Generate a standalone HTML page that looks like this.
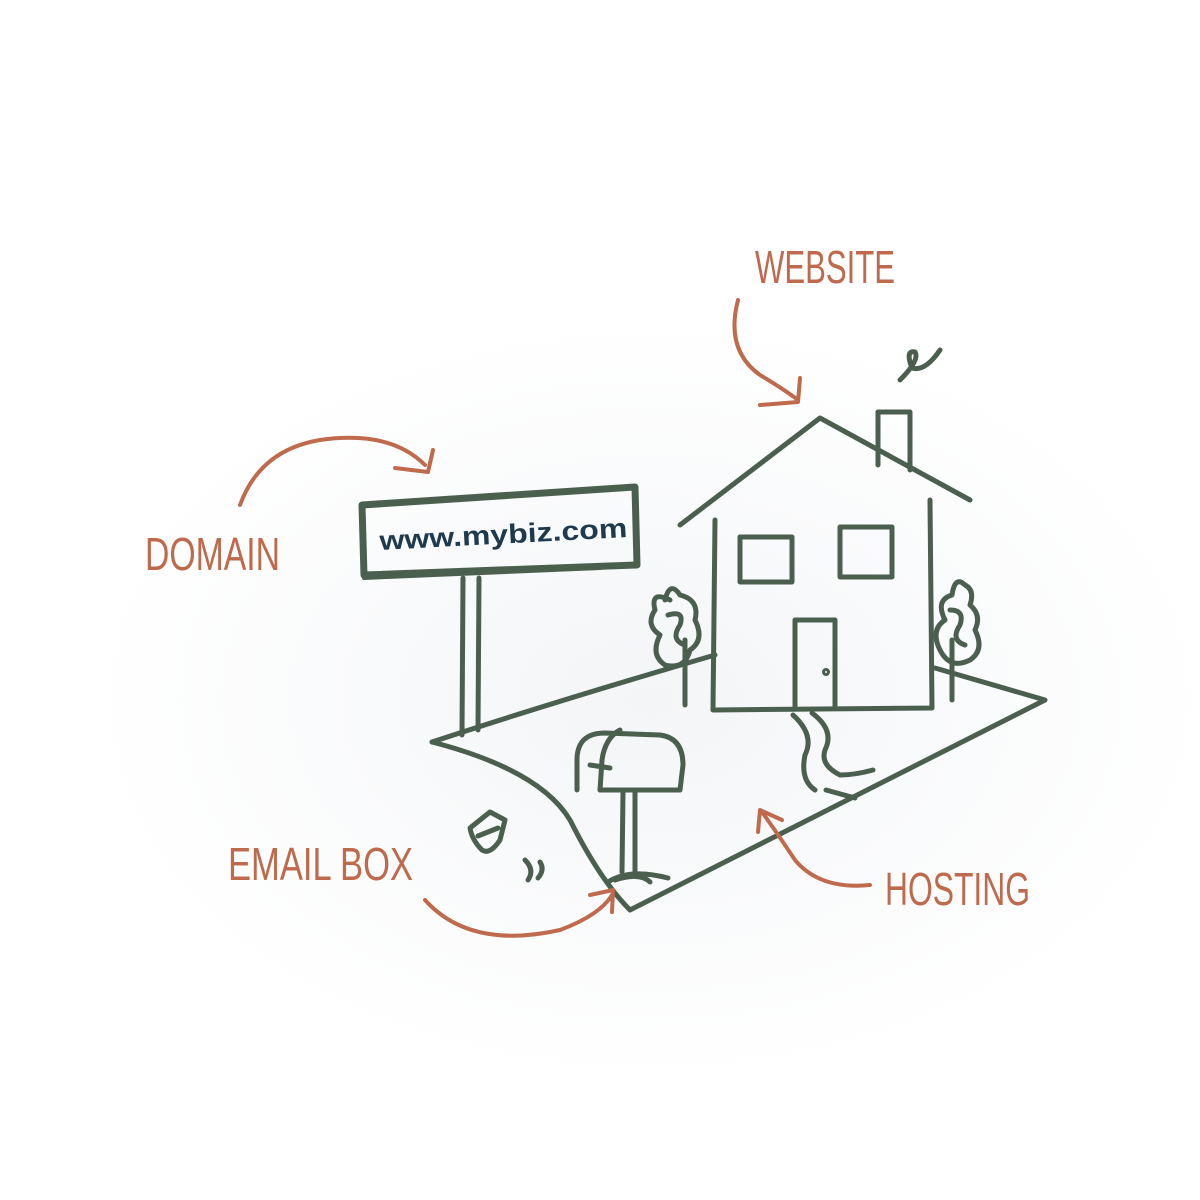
<!DOCTYPE html>
<html><head><meta charset="utf-8"><style>
html,body{margin:0;padding:0;background:#fff;}
svg{display:block;}
text{font-family:"Liberation Sans",sans-serif;}
</style></head><body>
<svg width="1200" height="1200" viewBox="0 0 1200 1200" xmlns="http://www.w3.org/2000/svg">
<defs>
<radialGradient id="wash" cx="0.5" cy="0.5" r="0.5">
<stop offset="0" stop-color="#f3f5f7"/><stop offset="1" stop-color="#ffffff"/>
</radialGradient>
</defs>
<rect width="1200" height="1200" fill="#fff"/>
<ellipse cx="650" cy="700" rx="560" ry="380" fill="url(#wash)"/>
<g fill="none" stroke="#4b5f4f" stroke-width="5" stroke-linecap="round" stroke-linejoin="round">
<path d="M432,742 Q560,700 715,655"/>
<path d="M935,668 L1045,700 L630,910"/>
<path d="M432,742 Q540,770 570,820 Q600,880 630,910"/>
<path d="M715,520 L713,710 L932,708 L930,500"/>
<path d="M680,525 L820,418 L970,500"/>
<path d="M878,465 L878,412 L910,412 L910,470"/>
<rect x="740" y="537" width="52" height="45"/>
<rect x="840" y="527" width="52" height="50"/>
<path d="M795,708 L795,620 L835,620 L835,708"/>
<circle cx="826" cy="672" r="1.5"/>
<path d="M793,715 Q815,735 805,755 Q800,780 815,790 M812,713 Q835,730 825,750 Q820,765 840,775 Q855,775 873,770"/>
<path d="M826,790 L855,798"/>
<path d="M900,380 Q920,360 915,352 Q905,350 912,368 Q925,372 940,350"/>
<path d="M362,505 L635,487 L637,565 L364,575 Z" stroke-width="7"/>
<path d="M364,578 L600,568" stroke-width="4"/>
<path d="M463,578 L462,735 M479,578 L478,730"/>
<path d="M577,790 L577,760 Q577,733 605,733 L660,735 Q683,738 683,765 L680,790 L600,790"/>
<path d="M620,730 Q605,738 602,760 L600,790"/>
<path d="M590,765 L610,768"/>
<path d="M623,792 L622,872 M635,792 L635,872"/>
<path d="M608,882 Q630,868 668,878 M615,880 Q640,872 650,882"/>
<path d="M685,705 L685,640 M670,600 Q650,590 655,610 Q645,625 660,635 Q650,655 665,665 Q685,670 690,650 Q705,640 695,620 Q700,600 680,595 Q670,580 665,600 M668,615 Q685,610 680,625 Q670,640 685,645"/>
<path d="M952,700 L952,640 M965,585 Q975,590 970,605 Q982,615 975,630 Q985,650 970,660 Q950,670 940,650 Q930,630 945,620 Q935,600 952,595 Q955,575 965,585 M950,610 Q965,610 960,625 Q950,640 965,645"/>
<path d="M470,828 L490,812 L505,820 L500,840 Q490,855 482,850 Q472,840 470,828 Z M478,836 L498,828"/>
<path d="M525,860 Q535,870 528,880 M540,862 Q545,870 538,878"/>
</g>
<text x="380" y="550" font-size="27" font-weight="bold" fill="#1f3a4c" transform="rotate(-3 380 550)" textLength="248" lengthAdjust="spacingAndGlyphs">www.mybiz.com</text>
<g fill="none" stroke="#bf6a4c" stroke-width="4" stroke-linecap="round" stroke-linejoin="round">
<path d="M738,300 Q725,350 760,375 Q785,390 798,400"/>
<path d="M800,378 L798,402 L760,405"/>
<path d="M240,505 Q260,450 320,440 Q390,430 425,465"/>
<path d="M395,468 L428,472 L433,450"/>
<path d="M425,900 Q470,950 560,930 Q600,915 612,895"/>
<path d="M590,895 L613,890 L612,912"/>
<path d="M870,885 Q820,890 795,860 Q775,830 762,812"/>
<path d="M758,832 L760,810 L782,820"/>
</g>
<g fill="#bf6a4c" font-size="46">
<text x="755" y="283" textLength="140" lengthAdjust="spacingAndGlyphs">WEBSITE</text>
<text x="145" y="570" textLength="135" lengthAdjust="spacingAndGlyphs">DOMAIN</text>
<text x="228" y="880" textLength="185" lengthAdjust="spacingAndGlyphs">EMAIL BOX</text>
<text x="885" y="905" textLength="145" lengthAdjust="spacingAndGlyphs">HOSTING</text>
</g>
</svg>
</body></html>
